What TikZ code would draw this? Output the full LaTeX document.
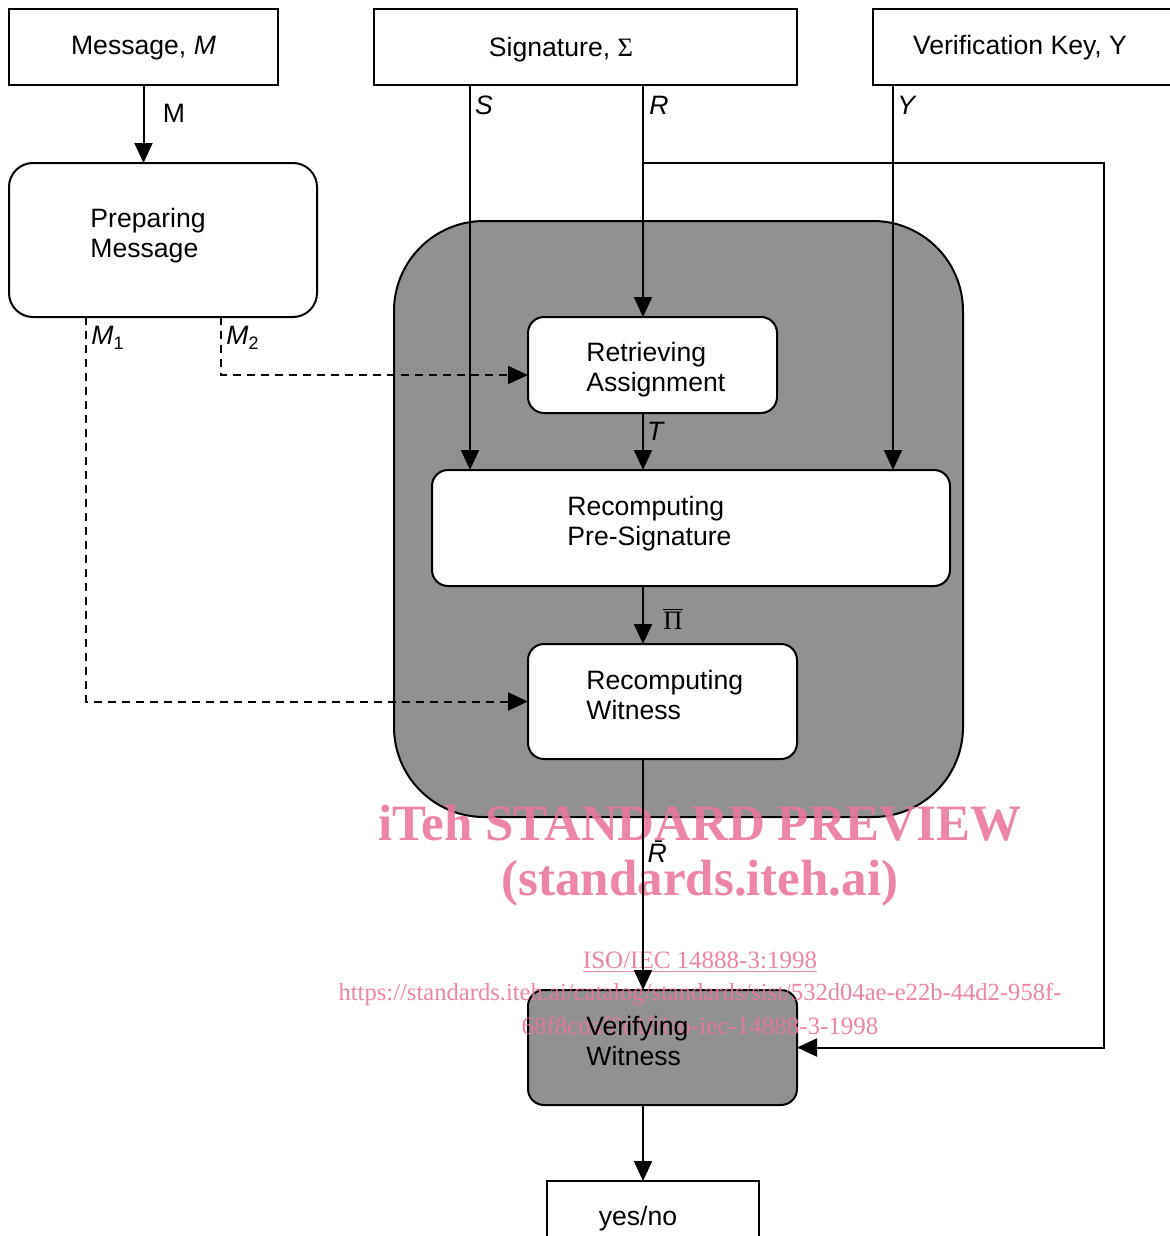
\documentclass[tikz,border=0pt]{standalone}
\usepackage{fontspec}
\setmainfont{Liberation Sans}
\newfontfamily\serifwm{Liberation Serif}
\usetikzlibrary{arrows.meta,calc}
\definecolor{boxgray}{RGB}{145,145,145}
\definecolor{wmpink}{RGB}{234,120,156}
\begin{document}
\begin{tikzpicture}[x=0.5pt,y=-0.5pt,
  blk/.style={draw,line width=1pt,rectangle,inner sep=0pt,outer sep=0pt,fill=white},
  rbox/.style={blk,rounded corners=8pt},
  txt/.style={inner sep=0pt,font=\fontsize{13.3}{15}\selectfont,align=left},
  lbl/.style={inner sep=0pt,font=\fontsize{13.3}{15}\selectfont},
  conn/.style={line width=1pt},
  arr/.style={conn,-{Triangle[length=10pt,width=9pt]}},
  dsh/.style={dash pattern=on 4pt off 3pt},
  wm/.style={inner sep=0pt,text=wmpink,opacity=0.9}
]
\useasboundingbox (0,0) rectangle (1170,1236);
% big grey region
\node[blk,fill=boxgray,rounded corners=45pt,minimum width=284.5pt,minimum height=298pt] (big) at (678.5,519) {};
% boxes
\node[blk,minimum width=134.5pt,minimum height=38pt] (msg) at (143.5,47) {};
\node[blk,minimum width=211.5pt,minimum height=38pt] (sig) at (585.5,47) {};
\node[blk,minimum width=153.5pt,minimum height=38pt] (vk) at (1026.5,47) {};
\node[blk,rounded corners=12pt,minimum width=154pt,minimum height=77pt] (prep) at (163,240) {};
\node[rbox,minimum width=124.5pt,minimum height=48pt] (ret) at (652.5,365) {};
\node[rbox,minimum width=259pt,minimum height=58pt] (pre) at (691,528) {};
\node[rbox,minimum width=134.5pt,minimum height=57.5pt] (wit) at (662.5,701.5) {};
\node[rbox,fill=boxgray,minimum width=134.5pt,minimum height=57.5pt] (ver) at (662.5,1047.5) {};
\node[blk,minimum width=106pt,minimum height=32pt] (yes) at (653,1213) {};
% watermark
\node[wm,font=\serifwm\bfseries\fontsize{25.5}{28}\selectfont] (wm1) at (700,823) {iTeh STANDARD PREVIEW};
\node[wm,font=\serifwm\bfseries\fontsize{25.5}{28}\selectfont] (wm2) at (700,883) {(standards.iteh.ai)};
\node[wm,font=\serifwm\fontsize{12.5}{15}\selectfont] (wm3) at (700,962) {\underline{ISO/IEC 14888-3:1998}};
\node[wm,font=\serifwm\fontsize{12.3}{15}\selectfont] (wm4) at (700,994) {https://standards.iteh.ai/catalog/standards/sist/532d04ae-e22b-44d2-958f-};
\node[wm,font=\serifwm\fontsize{12.5}{15}\selectfont] (wm5) at (700,1026) {68f8cdaf8c1f/iso-iec-14888-3-1998};
% x positions
\coordinate (sx) at (470,0);
\coordinate (rx) at (643,0);
\coordinate (yx) at (893,0);
\coordinate (m1x) at (86,0);
\coordinate (m2x) at (221,0);
\coordinate (loopx) at (1104,163);
% connectors
\draw[arr] (msg.south) -- (msg.south |- prep.north);
\draw[arr] (sig.south -| sx) -- (pre.north -| sx);
\draw[arr] (sig.south -| rx) -- (ret.north -| rx);
\draw[arr] (vk.south -| yx) -- (pre.north -| yx);
\draw[arr] (rx |- loopx) -- (loopx) |- (ver.east);
\draw[arr] (ret.south -| rx) -- (pre.north -| rx);
\draw[arr] (pre.south -| rx) -- (wit.north -| rx);
\draw[arr] (wit.south -| rx) -- (ver.north -| rx);
\draw[arr] (ver.south -| rx) -- (yes.north -| rx);
\draw[arr,dsh] (prep.south -| m1x) |- (wit.west);
\draw[arr,dsh] (prep.south -| m2x) |- ([yshift=-5pt]ret.west);
% box texts
\node[txt] (msg-t) at (143.5,48) {Message, \textit{M}};
\node[txt] (sig-t) at (561,50) {Signature, {\serifwm Σ}};
\node[txt] (vk-t) at (1020,48) {Verification Key, Y};
\node[txt,anchor=west] (prep-t) at (90,236) {Preparing\\Message};
\node[txt,anchor=west] (ret-t) at (586,370) {Retrieving\\Assignment};
\node[txt,anchor=west] (pre-t) at (567,524) {Recomputing\\Pre-Signature};
\node[txt,anchor=west] (wit-t) at (586,695) {Recomputing\\Witness};
\node[txt,anchor=west] (ver-t) at (586,1041) {Verifying\\Witness};
\node[txt] (yes-t) at (638,1219) {yes/no};
% connector labels
\node[lbl] (l-m) at (174,113) {M};
\node[lbl] (l-s) at (484,105) {\textit{S}};
\node[lbl] (l-r) at (659,105) {\textit{R}};
\node[lbl] (l-y) at (907,105) {\textit{Y}};
\node[lbl] (l-t) at (656,431) {\textit{T}};
\node[lbl,font=\serifwm\fontsize{13.3}{15}\selectfont] (l-pi) at (673,619) {$\overline{\mbox{Π}}$};
\node[lbl] (l-rb) at (659,852) {\textit{\={R}}};
\node[lbl,anchor=west] (l-m1) at (91,338) {\textit{M}\raisebox{-0.35ex}{\fontsize{9}{10}\selectfont 1}};
\node[lbl,anchor=west] (l-m2) at (226,338) {\textit{M}\raisebox{-0.35ex}{\fontsize{9}{10}\selectfont 2}};
\end{tikzpicture}
\end{document}
